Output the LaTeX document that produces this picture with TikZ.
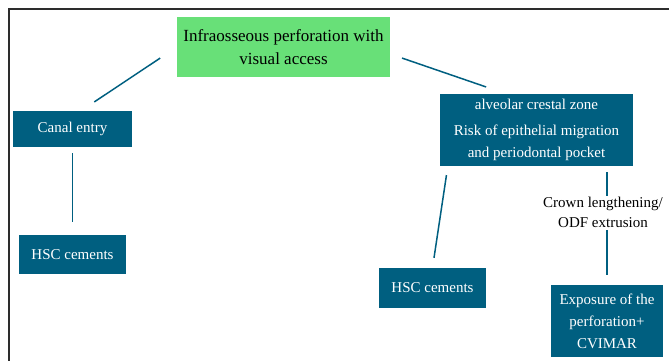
\documentclass[tikz,border=0pt]{standalone}
\usepackage{fontspec}
\setmainfont{Liberation Serif}
\definecolor{boxblue}{RGB}{0,95,128}
\definecolor{boxgreen}{RGB}{104,224,120}
\definecolor{framegray}{RGB}{45,45,45}

\begin{document}
\begin{tikzpicture}[x=1pt,y=-1pt,
	bluebox/.style={fill=boxblue,text=white,inner sep=0pt,align=center,font=\fontsize{15}{22}\selectfont},
	link/.style={draw=boxblue,line width=1.5pt}]
			\useasboundingbox (0,0) rectangle (669,361);
			% Draw frame
			\draw[framegray,line width=1.5pt] (9,361) -- (9,9) -- (669,9);
			% Draw top box
			\node[fill=boxgreen,inner sep=0pt,minimum width=213pt,minimum height=60pt,align=center,font=\fontsize{17}{23}\selectfont] (infra) at (283.5,47) {Infraosseous perforation with\\visual access};
			% Draw left branch
			\node[bluebox,minimum width=119pt,minimum height=36pt] (canal) at (72.5,129) {Canal entry};
			\node[bluebox,minimum width=107pt,minimum height=39pt] (hscleft) at (72.5,254.5) {HSC cements};
			% Draw right branch
			\node[bluebox,minimum width=193pt,minimum height=72pt] (crestal) at (536.5,130) {alveolar crestal zone\\[4pt]Risk of epithelial migration\\and periodontal pocket};
			\node[bluebox,minimum width=107pt,minimum height=40pt] (hscright) at (432.5,288) {HSC cements};
			\node[inner sep=1pt,align=center,font=\fontsize{15}{20}\selectfont] (crown) at (603,212) {Crown lengthening/\\ODF extrusion};
			\node[bluebox,minimum width=112pt,minimum height=72pt] (expo) at (607,321) {Exposure of the\\perforation+\\CVIMAR};
			% Draw connectors
			\draw[link,shorten <=20pt,shorten >=16pt] (infra.west) -- ([xshift=8.5pt]canal.north);
			\draw[link,shorten <=12.5pt,shorten >=21pt] ([yshift=-7pt]infra.east) -- ([xshift=-30.5pt]crestal.north);
			\draw[link,shorten <=6pt,shorten >=13pt] (canal.south) -- (hscleft.north);
			\draw[link,shorten <=9pt,shorten >=10pt] ([xshift=8pt]crestal.south west) -- (hscright.north);
			\draw[link,shorten <=6pt] (expo.north |- crestal.south) -- (expo.north |- crown.north);
			\draw[link,shorten <=2pt,shorten >=10pt] (expo.north |- crown.south) -- (expo.north);
		\end{tikzpicture}
\end{document}
